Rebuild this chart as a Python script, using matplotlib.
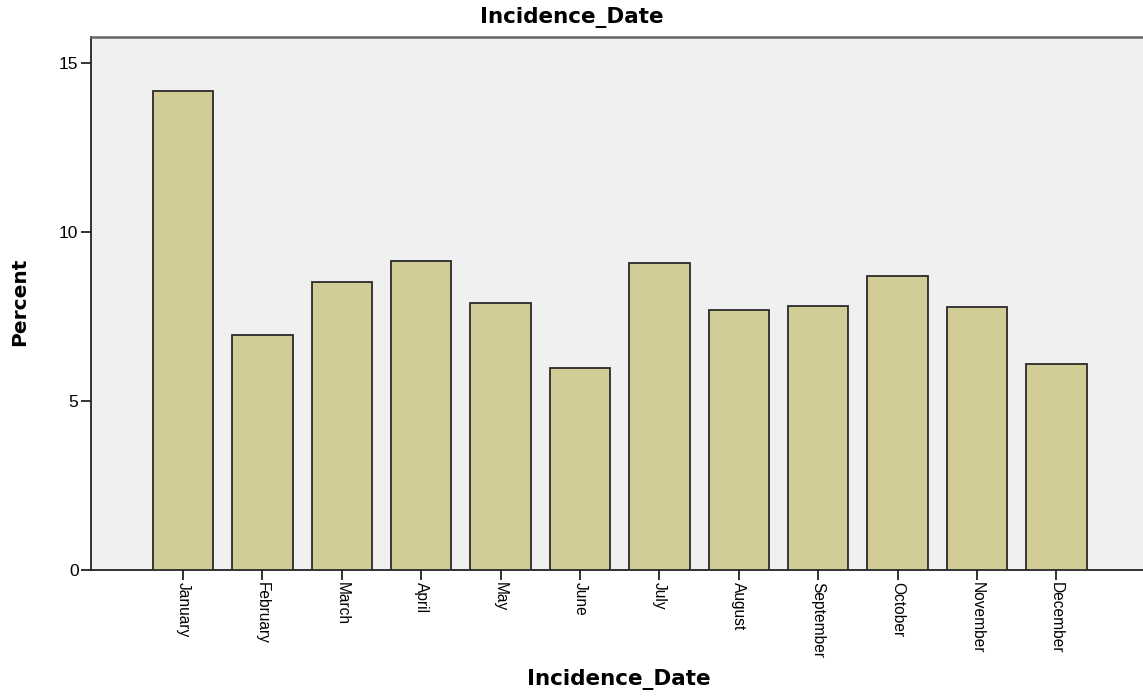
import matplotlib
matplotlib.use("Agg")
import matplotlib.pyplot as plt
from matplotlib import font_manager

months = ["January", "February", "March", "April", "May", "June", "July",
          "August", "September", "October", "November", "December"]
percent = [14.18, 6.95, 8.53, 9.16, 7.92, 5.99, 9.10, 7.69, 7.83, 8.72, 7.78, 6.09]
yticks = [0, 5, 10, 15]

plt.rcParams['font.family'] = ['Liberation Sans', 'DejaVu Sans']
names = {f.name for f in font_manager.fontManager.ttflist}
narrow = 'Liberation Sans Narrow' if 'Liberation Sans Narrow' in names else 'Liberation Sans'
narrow_size = 13 if narrow == 'Liberation Sans Narrow' else 11.2

W, H = 1143, 696
fig = plt.figure(figsize=(W/100, H/100), dpi=100)
ax = fig.add_axes([91/W, 1 - 570/H, 1 - 91/W + 0.002, (570 - 37)/H])
ax.set_facecolor('#F0F0F0')

x = list(range(len(months)))
ax.bar(x, percent, width=0.76, color='#D2CD96', edgecolor='#2a2a2a', linewidth=1.3, zorder=3)

ax.set_xlim(-1.16, 12.12)
ax.set_ylim(0, (570 - 37) / 33.77)
ax.set_yticks(yticks)
ax.set_yticklabels([str(t) for t in yticks], fontsize=12.5)
ax.set_xticks(x)
ax.set_xticklabels(months, rotation=270, fontsize=narrow_size, va='top', ha='center',
                   family=[narrow, 'DejaVu Sans'])

for s in ['left', 'bottom']:
    ax.spines[s].set_color('#222222')
    ax.spines[s].set_linewidth(1.3)
ax.spines['top'].set_color('#666666')
ax.spines['top'].set_linewidth(1.8)
ax.spines['right'].set_visible(False)

ax.tick_params(axis='y', length=7, width=1.3, color='#222222', pad=2)
ax.tick_params(axis='x', length=7, width=1.3, color='#222222', pad=2)

lab = dict(fontsize=15.5, fontweight='bold', family=['DejaVu Sans'])
fig.text(0.5, 1 - 18/H, "Incidence_Date", ha='center', va='center', **lab)
fig.text(619/W, 1 - 680/H, "Incidence_Date", ha='center', va='center', **lab)
fig.text(20/W, 1 - 302/H, "Percent", ha='center', va='center', rotation=90,
         fontsize=14.5, fontweight='bold', family=['DejaVu Sans'])

fig.savefig("out.png", dpi=100)
